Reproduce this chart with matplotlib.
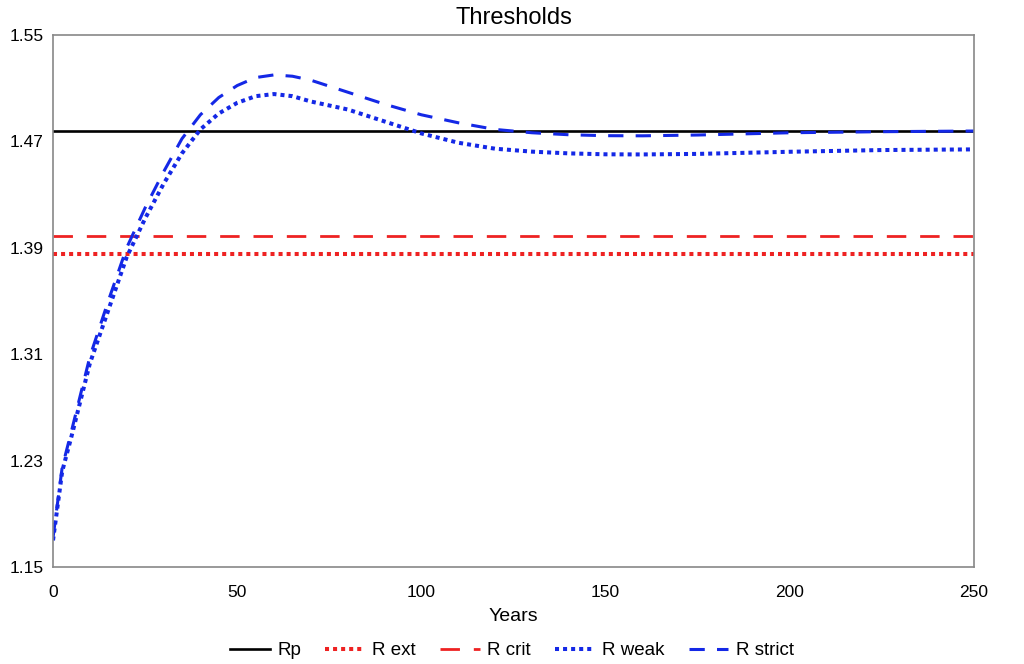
import matplotlib
matplotlib.use("Agg")
import matplotlib.pyplot as plt

years = [0, 2.5, 5, 10, 15, 20, 25, 30, 35, 40, 45, 50, 55, 60, 65, 70, 80, 90,
         100, 110, 120, 130, 140, 150, 160, 175, 200, 225, 250]
r_weak = [1.170, 1.222, 1.248, 1.303, 1.343, 1.383, 1.412, 1.438, 1.461, 1.479,
          1.491, 1.499, 1.504, 1.5056, 1.504, 1.500, 1.494, 1.485,
          1.476, 1.469, 1.4645, 1.4623, 1.461, 1.4603, 1.4602, 1.4606, 1.4622, 1.4635, 1.4640]
r_strict = [1.172, 1.225, 1.252, 1.308, 1.350, 1.390, 1.420, 1.447, 1.472, 1.490,
            1.503, 1.512, 1.518, 1.520, 1.519, 1.516, 1.507, 1.498,
            1.490, 1.484, 1.479, 1.4765, 1.475, 1.4743, 1.4742, 1.4748, 1.4765, 1.4773, 1.4778]
rp = 1.4778
r_crit = 1.3989
r_ext = 1.3855
yticks = [1.15, 1.23, 1.31, 1.39, 1.47, 1.55]
xticks = [0, 50, 100, 150, 200, 250]

plt.rcParams['font.family'] = ['Liberation Sans', 'DejaVu Sans']

fig = plt.figure(figsize=(10.24, 6.64), dpi=100)
ax = fig.add_axes([53/1024, 1 - 567/664, (974-53)/1024, (567-35)/664])

blue = '#1428e6'
red = '#ee2222'
ax.plot([0, 250], [rp, rp], color='black', lw=1.9, label='Rp')
ax.plot([0, 250], [r_ext, r_ext], color=red, lw=2.9, dashes=(1, 1), label='R ext')
ax.plot([0, 250], [r_crit, r_crit], color=red, lw=2.0, dashes=(7, 5), label='R crit')
ax.plot(years, r_weak, color=blue, lw=2.9, dashes=(1, 1), label='R weak')
ax.plot(years, r_strict, color=blue, lw=2.2, dashes=(5, 4), label='R strict')

ax.set_xlim(0, 250)
ax.set_ylim(1.15, 1.55)
ax.set_xticks(xticks)
ax.set_yticks(yticks)
ax.set_yticklabels([f'{v:.2f}' for v in yticks])
ax.tick_params(length=0, labelsize=12.5)
ax.tick_params(axis='x', pad=13)
ax.tick_params(axis='y', pad=7)
for s in ax.spines.values():
    s.set_color('#888888')
    s.set_linewidth(1.2)

ax.set_title('Thresholds', fontsize=17, pad=8)
ax.set_xlabel('Years', fontsize=14, labelpad=6)

fig.legend(loc='lower center', bbox_to_anchor=(0.5, -0.018), ncol=5, frameon=False,
           fontsize=13.5, handlelength=2.1, columnspacing=1.3, handletextpad=0.4)

fig.savefig('out.png', dpi=100)
